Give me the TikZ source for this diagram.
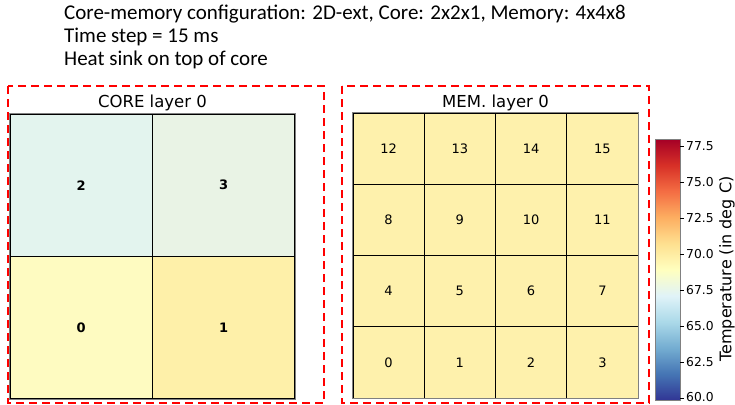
\documentclass[tikz,border=0pt]{standalone}
\usepackage{fontspec}
\setmainfont{Carlito}
\newfontfamily\plotfont{DejaVu Sans}

% cell colours (RdYlBu_r)
\definecolor{coretwo}{HTML}{E3F4EE}
\definecolor{corethree}{HTML}{E9F3E5}
\definecolor{corezero}{HTML}{FEFBC1}
\definecolor{coreone}{HTML}{FEF0A9}
\definecolor{memfill}{HTML}{FEF1AC}
\definecolor{cmA}{HTML}{313695}
\definecolor{cmB}{HTML}{4575B4}
\definecolor{cmC}{HTML}{74ADD1}
\definecolor{cmD}{HTML}{ABD9E9}
\definecolor{cmE}{HTML}{E0F3F8}
\definecolor{cmF}{HTML}{FFFFBF}
\definecolor{cmG}{HTML}{FEE090}
\definecolor{cmH}{HTML}{FDAE61}
\definecolor{cmI}{HTML}{F46D43}
\definecolor{cmJ}{HTML}{D73027}
\definecolor{cmK}{HTML}{A50026}

\tikzset{
  hdr/.style={anchor=base west, inner sep=0pt, font=\fontsize{21}{24}\selectfont},
  paneltitle/.style={font=\plotfont\fontsize{16.5}{18}\selectfont},
  corecell/.style={draw=black, line width=1.2pt, minimum size=142.5pt, inner sep=0pt,
    font=\plotfont\bfseries\fontsize{13}{14}\selectfont},
  memcell/.style={draw=black, line width=0.9pt, minimum size=71.25pt, inner sep=0pt,
    fill=memfill, font=\plotfont\fontsize{13}{14}\selectfont},
  dashbox/.style={draw=red, line width=1.8pt, dash pattern=on 8pt off 5pt},
  ticklbl/.style={anchor=west, inner sep=0pt, font=\plotfont\fontsize{12.3}{14}\selectfont},
}

\begin{document}
\begin{tikzpicture}[x=1pt, y=-1pt]
    \useasboundingbox (0,0) rectangle (735,404);
    % header
    \node[hdr] (hdr1) at (64,20){Core-memory configuration: 2D-ext, Core: 2x2x1, Memory: 4x4x8};
    \node[hdr] (hdr2) at (64,43){Time step = 15 ms};
    \node[hdr] (hdr3) at (64,66){Heat sink on top of core};

    % core layer
    \node[paneltitle] (coretitle) at (152.5,103){CORE layer 0};
    \node[corecell, fill=coretwo] (c2) at (81.25,185.25){2};
    \node[corecell, fill=corethree] (c3) at (223.75,185.25){3};
    \node[corecell, fill=corezero] (c0) at (81.25,327.75){0};
    \node[corecell, fill=coreone] (c1) at (223.75,327.75){1};
    \draw[gray, line width=1pt] (c2.north west) rectangle (c1.south east);
    \draw[dashbox] (8,86) rectangle (324,403);

    % memory layer
    \node[paneltitle] (memtitle) at (495.5,103){MEM. layer 0};
    \foreach \i in {0,...,15}{
        \pgfmathsetmacro\cx{353+71.25*(mod(\i,4)+0.5)}
        \pgfmathsetmacro\cy{398-71.25*(div(\i,4)+0.5)}
        \node[memcell] (m\i) at (\cx,\cy){\i};
    }
    \draw[gray, line width=1pt] (m12.north west) rectangle (m3.south east);
    \draw[dashbox] (342,86) rectangle (649,403);

    % colour bar
    \foreach \lo/\hi [count=\k from 0] in {cmA/cmB,cmB/cmC,cmC/cmD,cmD/cmE,cmE/cmF,cmF/cmG,cmG/cmH,cmH/cmI,cmI/cmJ,cmJ/cmK}{
        \shade[bottom color=\lo, top color=\hi] (655,{400-26.1*\k}) rectangle (680,{400-26.1*(\k+1)+0.3});
    }
    \node[draw=gray, line width=0.8pt, minimum width=25pt, minimum height=261pt, inner sep=0pt] (cbar) at (667.5,269.5){};
    \foreach \v/\t [count=\n] in {60/60.0,62.5/62.5,65/65.0,67.5/67.5,70/70.0,72.5/72.5,75/75.0,77.5/77.5}{
        \pgfmathsetmacro\ty{400-(\v-59.9)/18.1*261}
        \coordinate (tk\n) at (680,\ty);
        \draw[line width=0.8pt] (tk\n) -- ++(4,0);
        \node[ticklbl] (tl\n) at (686,{min(\ty,397.5)}){\t};
    }
    \node[rotate=90, font=\plotfont\fontsize{16}{18}\selectfont] (cblabel) at (727,269){Temperature (in deg C)};
\end{tikzpicture}
\end{document}
